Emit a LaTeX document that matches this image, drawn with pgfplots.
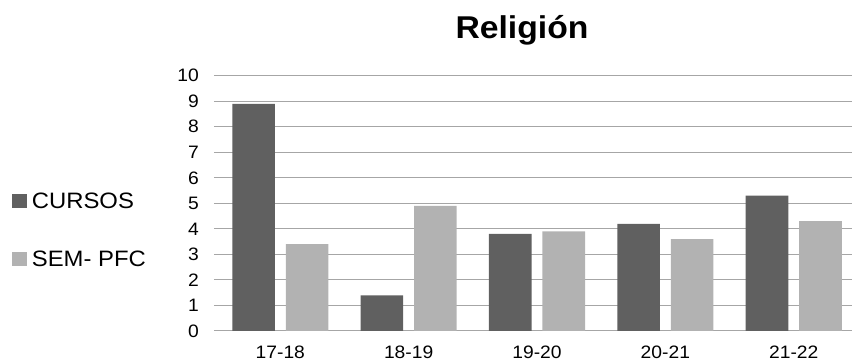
\documentclass[border=0pt]{standalone}
\usepackage{pgfplots}
\pgfplotsset{compat=1.18}
\usepackage{fontspec}
\setmainfont{Liberation Sans}[FakeStretch=1.07]
\definecolor{darkbar}{HTML}{606060}
\definecolor{lightbar}{HTML}{B2B2B2}
\definecolor{gridc}{HTML}{A6A6A6}
\begin{document}
\begin{tikzpicture}[x=1pt,y=1pt]
\path[use as bounding box] (0,0) rectangle (852,363);
\begin{axis}[
  at={(214pt,32pt)}, anchor=south west,
  scale only axis, width=638pt, height=255.3pt,
  xmin=-0.5166, xmax=4.454, ymin=0, ymax=10,
  axis line style={draw=none},
  major tick length=0pt, tick style={draw=none},
  ytick={0,1,...,10},
  xtick={0,1,2,3,4},
  xticklabels={17-18,18-19,19-20,20-21,21-22},
  ymajorgrids, grid style={gridc, line width=1pt},
  /pgf/number format/assume math mode=true,
  ticklabel style={font=\fontsize{18}{21}\selectfont},
  yticklabel style={anchor=east, inner sep=0pt, xshift=-15pt},
  xticklabel style={anchor=north, inner sep=0pt, yshift=-14.5pt},
  ybar, bar width=0.332,
  title={Religión},
  title style={at={(0.5,1)}, anchor=base, yshift=30.7pt, xshift=-11pt,
    font=\bfseries\fontsize{31.5}{36}\selectfont},
  legend style={at={(-0.3171,0.395)}, anchor=west, draw=none, fill=none,
    inner sep=0pt, nodes={inner sep=0pt}, row sep=41.2pt, column sep=5pt,
    font=\fontsize{22.3}{26}\selectfont},
  legend cell align=left,
  legend image code/.code={\fill[#1, draw=none] (0pt,-6.5pt) rectangle (15pt,7pt);},
]
\addplot[fill=darkbar, draw=none, bar shift=-0.2084] coordinates {(0,8.9) (1,1.4) (2,3.8) (3,4.2) (4,5.3)};
\addplot[fill=lightbar, draw=none, bar shift=0.2084] coordinates {(0,3.4) (1,4.9) (2,3.9) (3,3.6) (4,4.3)};
\legend{CURSOS, SEM- PFC}
\end{axis}
\end{tikzpicture}
\end{document}
